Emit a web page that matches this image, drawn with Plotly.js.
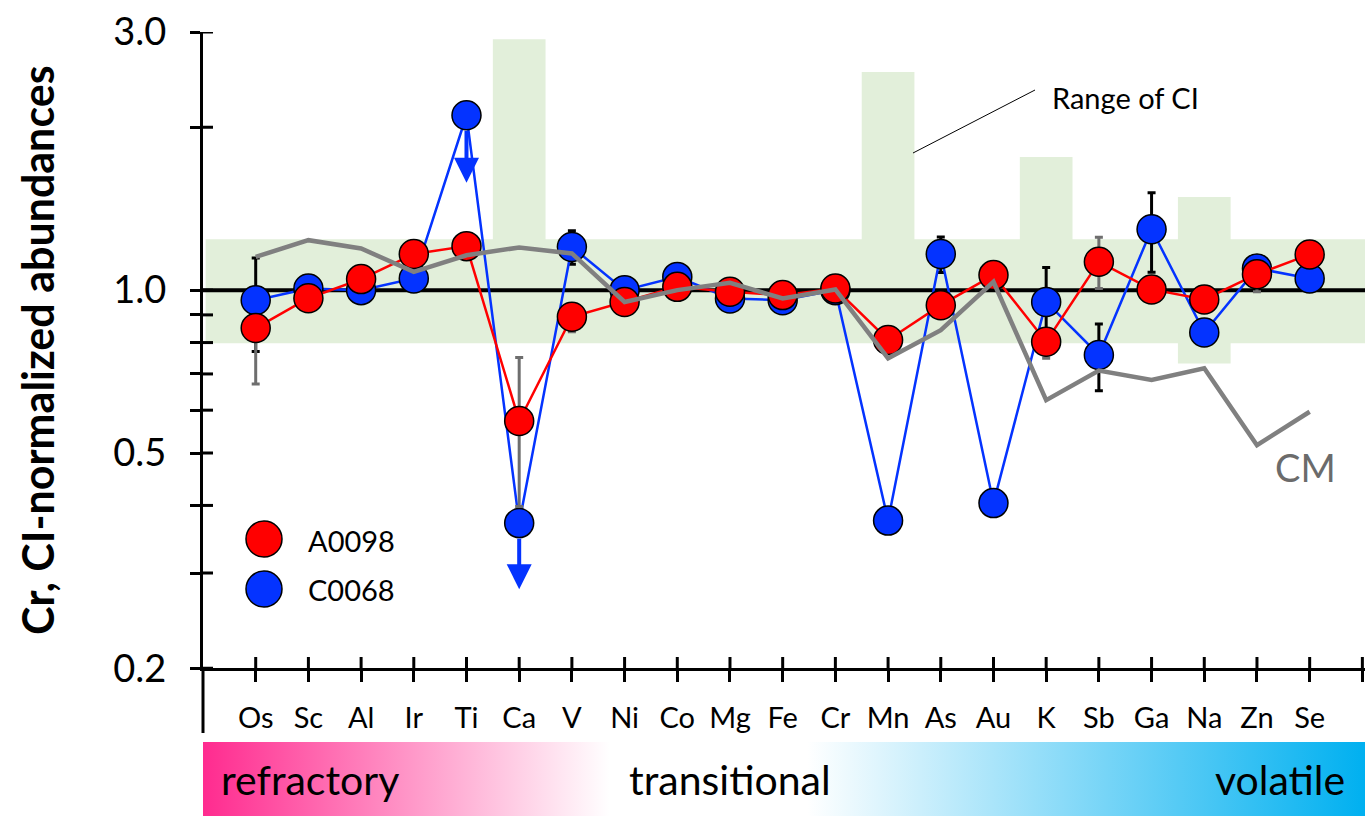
<!DOCTYPE html>
<html><head><meta charset="utf-8">
<script src="https://cdn.plot.ly/plotly-3.0.1.min.js"></script>
<style>html,body{margin:0;padding:0;background:#fff;}#chart{width:1365px;height:816px;}</style>
</head><body><div id="chart"></div>
<script>
// ---------- data ----------
const elements = ['Os','Sc','Al','Ir','Ti','Ca','V','Ni','Co','Mg','Fe','Cr','Mn','As','Au','K','Sb','Ga','Na','Zn','Se'];
const a0098 = [0.851,0.966,1.048,1.166,1.206,0.573,0.893,0.951,1.014,0.993,0.979,1.007,0.809,0.938,1.066,0.803,1.128,1.003,0.961,1.070,1.164];
const a0098ErrPlus  = [0.03,null,null,null,null,0.178,0.03,null,null,null,null,null,null,null,null,0.03,0.125,null,null,0.03,null];
const a0098ErrMinus = [0.18,null,null,null,null,0.175,0.055,null,null,null,null,null,null,null,null,0.055,0.121,null,null,0.077,null];
const c0068 = [0.958,1.007,1.0,1.051,2.105,0.371,1.202,1.0,1.058,0.965,0.958,1.0,0.375,1.166,0.404,0.951,0.759,1.296,0.835,1.097,1.051];
const c0068Err = [0.188,null,null,null,null,null,0.085,null,null,null,null,null,null,0.088,null,0.15,0.107,0.217,null,null,null];
const cm = [1.152,1.237,1.194,1.081,1.16,1.199,1.169,0.951,1.0,1.032,0.965,1.003,0.748,0.843,1.036,0.626,0.710,0.682,0.717,0.517,0.596];
const ciHigh = [1.242,1.242,1.242,1.242,1.242,2.91,1.242,1.242,1.242,1.242,1.242,1.242,2.53,1.242,1.242,1.763,1.242,1.242,1.487,1.242,1.242];
const ciLow  = [0.798,0.798,0.798,0.798,0.798,0.798,0.798,0.798,0.798,0.798,0.798,0.798,0.798,0.798,0.798,0.798,0.798,0.798,0.732,0.798,0.798];
const limitElements = ['Ti','Ca'];      // C0068 upper limits
const limitArrowTip = [1.58, 0.28];
const yTickVals = [0.2,0.3,0.4,0.5,0.6,0.7,0.8,0.9,1,2,3];
const yTickText = ['0.2','','','0.5','','','','','1.0','','3.0'];
const volatilityLabels = ['refractory','transitional','volatile'];
const seriesNames = ['A0098','C0068'];

// ---------- layout constants ----------
const W = 1365, H = 816, ML = 203, MT = 32;
const PW = W - ML, PH = H - MT;
const PX = x => (x - ML) / PW;      // pixel -> paper
const PY = y => (H - y) / PH;
const FONT = 'Lato, "Open Sans", sans-serif';
const RED = '#FF0000', BLUE = '#0433FF', GREY = '#808080';
const xIdx = elements.map((_, i) => i);
const xMin = -1, xMax = 21.05;

// CI range polygon (step shape per element)
const bx = [], by = [];
elements.forEach((_, i) => {
  const xl = i === 0 ? xMin + 0.05 : i - 0.5;
  const xr = i === elements.length - 1 ? xMax : i + 0.5;
  bx.push(xl, xr); by.push(ciHigh[i], ciHigh[i]);
});
for (let i = elements.length - 1; i >= 0; i--) {
  const xl = i === 0 ? xMin + 0.05 : i - 0.5;
  const xr = i === elements.length - 1 ? xMax : i + 0.5;
  bx.push(xr, xl); by.push(ciLow[i], ciLow[i]);
}

const traces = [
  { x: bx, y: by, mode: 'lines', fill: 'toself', fillcolor: '#E2EFDA', line: {width: 0}, hoverinfo: 'skip', showlegend: false },
  { x: [xMin, xMax], y: [1, 1], mode: 'lines', line: {color: '#000', width: 4}, showlegend: false, cliponaxis: false },
  { x: xIdx, y: c0068, name: seriesNames[1], mode: 'lines+markers',
    line: {color: BLUE, width: 2.5},
    marker: {size: 29, color: BLUE, line: {color: '#000', width: 1.5}},
    error_y: {type: 'data', array: c0068Err, symmetric: true, color: '#000', thickness: 3, width: 4},
    showlegend: false, cliponaxis: false },
  { x: xIdx, y: a0098, name: seriesNames[0], mode: 'lines+markers',
    line: {color: RED, width: 2.5},
    marker: {size: 29, color: RED, line: {color: '#000', width: 1.5}},
    error_y: {type: 'data', array: a0098ErrPlus, arrayminus: a0098ErrMinus, symmetric: false, color: '#6E6E6E', thickness: 3, width: 4},
    showlegend: false, cliponaxis: false },
  { x: xIdx, y: cm, name: 'CM', mode: 'lines', line: {color: GREY, width: 4.5}, showlegend: false },
  // volatility gradient band (paper-like overlay subplot)
  { x: [0, 1, 1, 0, 0], y: [0, 0, PY(742), PY(742), 0], xaxis: 'x2', yaxis: 'y2',
    mode: 'lines', fill: 'toself', line: {width: 0},
    fillgradient: {type: 'horizontal', colorscale: [[0, '#FF2B8F'], [0.35, '#FFFFFF'], [0.52, '#FFFFFF'], [1, '#00B0F0']]},
    hoverinfo: 'skip', showlegend: false },
  // custom legend glyphs
  { x: [PX(264), PX(264)], y: [PY(539), PY(589)], xaxis: 'x2', yaxis: 'y2', mode: 'markers',
    marker: {size: 36, color: [RED, BLUE], line: {color: '#000', width: 1.5}}, showlegend: false, hoverinfo: 'skip' }
];

const shapes = [];
// inner half of y ticks (ticks cross the axis)
yTickVals.forEach(v => shapes.push({type: 'line', xref: 'paper', yref: 'y', x0: 0, x1: 10 / PW, y0: v, y1: v, line: {color: '#000', width: 3}}));
// inner half of x ticks
elements.concat(['']).forEach((_, i) => shapes.push({type: 'line', xref: 'x', yref: 'paper', x0: i, x1: i, y0: PY(668.3), y1: PY(657), line: {color: '#000', width: 3}}));
// y-axis extension below x axis
shapes.push({type: 'line', xref: 'paper', yref: 'paper', x0: 0, x1: 0, y0: PY(668), y1: PY(733), line: {color: '#000', width: 3}});
// leader line for "Range of CI"
shapes.push({type: 'line', xref: 'paper', yref: 'paper', x0: PX(913), y0: PY(153), x1: PX(1035), y1: PY(90), line: {color: '#000', width: 1}});

const annotations = [];
limitElements.forEach((el, k) => {
  const i = elements.indexOf(el);
  annotations.push({x: i, y: Math.log10(limitArrowTip[k]), xref: 'x', yref: 'y',
    ax: i, ay: Math.log10(c0068[i]), axref: 'x', ayref: 'y', text: '', showarrow: true,
    arrowhead: 2, arrowsize: 1.25, arrowwidth: 4, arrowcolor: BLUE, startstandoff: 14, standoff: 0});
});
annotations.push({xref: 'paper', yref: 'paper', x: PX(1050), y: PY(97), xanchor: 'left', yanchor: 'middle', text: 'Range of CI', showarrow: false, font: {family: FONT, size: 29, color: '#000'}});
annotations.push({xref: 'paper', yref: 'paper', x: PX(1305), y: PY(467), xanchor: 'center', yanchor: 'middle', text: 'CM', showarrow: false, font: {family: FONT, size: 38, color: '#6B6B6B'}});
seriesNames.forEach((n, k) => annotations.push({xref: 'paper', yref: 'paper', x: PX(306), y: PY(k === 0 ? 540 : 589), xanchor: 'left', yanchor: 'middle', text: n, showarrow: false, font: {family: FONT, size: 29, color: '#000'}}));
annotations.push({xref: 'paper', yref: 'paper', x: PX(219), y: PY(779), xanchor: 'left', yanchor: 'middle', text: volatilityLabels[0], showarrow: false, font: {family: FONT, size: 41, color: '#000'}});
annotations.push({xref: 'paper', yref: 'paper', x: PX(730), y: PY(779), xanchor: 'center', yanchor: 'middle', text: volatilityLabels[1], showarrow: false, font: {family: FONT, size: 41, color: '#000'}});
annotations.push({xref: 'paper', yref: 'paper', x: PX(1347), y: PY(779), xanchor: 'right', yanchor: 'middle', text: volatilityLabels[2], showarrow: false, font: {family: FONT, size: 41, color: '#000'}});

const layout = {
  width: W, height: H,
  margin: {l: ML, r: 0, t: MT, b: 0, pad: 0},
  paper_bgcolor: '#fff', plot_bgcolor: 'rgba(0,0,0,0)',
  showlegend: false,
  font: {family: FONT, color: '#000'},
  xaxis: {domain: [0, 1], anchor: 'y', range: [xMin, xMax], tickmode: 'array', tickvals: elements.map((_, i) => i).concat([21]), ticktext: elements.concat(['']),
    ticks: 'outside', ticklen: 11, tickwidth: 3, tickcolor: '#000', showline: true, linewidth: 3, linecolor: '#000',
    showgrid: false, zeroline: false, tickfont: {family: FONT, size: 29, color: '#000'}, ticklabelstandoff: 11},
  yaxis: {domain: [PY(668.3), 1], anchor: 'x', type: 'log', range: [Math.log10(0.2), Math.log10(3)], tickmode: 'array', tickvals: yTickVals, ticktext: yTickText,
    ticks: 'outside', ticklen: 10, tickwidth: 3, tickcolor: '#000', showline: true, linewidth: 3, linecolor: '#000',
    showgrid: false, zeroline: false, tickfont: {family: FONT, size: 38, color: '#000'}, ticklabelstandoff: 16,
    title: {text: '<b>Cr, CI-normalized abundances</b>', font: {family: FONT, size: 43, color: '#000'}, standoff: 46}},
  xaxis2: {domain: [0, 1], anchor: 'y2', range: [0, 1], visible: false, fixedrange: true},
  yaxis2: {domain: [0, 1], anchor: 'x2', range: [0, 1], visible: false, fixedrange: true},
  shapes: shapes,
  annotations: annotations
};

Plotly.newPlot('chart', traces, layout, {staticPlot: true, displayModeBar: false});
</script>
</body></html>
